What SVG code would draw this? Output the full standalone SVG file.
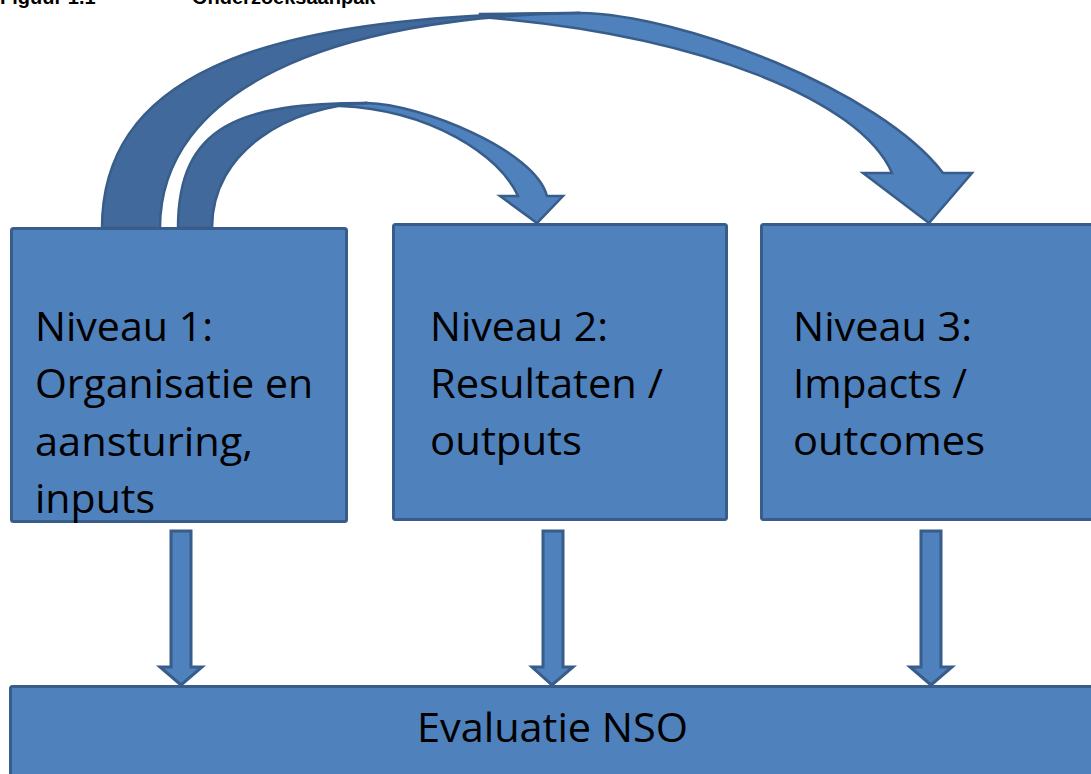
<svg xmlns="http://www.w3.org/2000/svg" width="1091" height="774" viewBox="0 0 1091 774">
<style>
.box{fill:#4F81BD;stroke:#385D8A;stroke-width:3}
.lbl{font-family:"Open Sans","Noto Sans","Liberation Sans",sans-serif;font-size:41px;fill:#000;font-variant-ligatures:none}
.dark{fill:#41699C;stroke:#385D8A;stroke-width:2.5;stroke-linejoin:round}
.light{fill:#4F81BD;stroke:#385D8A;stroke-width:2.5;stroke-linejoin:miter}
.down{fill:#4F81BD;stroke:#385D8A;stroke-width:3;stroke-linejoin:miter}
.title{font-family:"Liberation Sans",Arial,sans-serif;font-weight:bold;font-size:20px;fill:#000}
</style>
<rect width="1091" height="774" fill="#fff"/>
<g id="title">
<text class="title" x="0" y="4">Figuur 1.1</text>
<text class="title" x="192" y="4">Onderzoeksaanpak</text>
</g>
<g id="connectors">
<!-- big curved arrow: Niveau 1 -> Niveau 3 -->
<path class="light" d="M480,14 L580,13 C680,14 880,90 943,173 L972,173 L929,223 L863,173 L892,173 C860,100 700,35 480,17 Z"/>
<path class="dark" d="M102,228 C102,85 240,13 580,13 C330,17 160,90 160,228 Z"/>
<!-- small curved arrow: Niveau 1 -> Niveau 2 -->
<path class="light" d="M340,104 L367,103 C420,104 535,150 547,196 L563,196 L537,223 L500,196 L518,196 C500,155 430,110 340,106 Z"/>
<path class="dark" d="M178,228 C178,125 240,103 367,103 C290,106 212,150 212,228 Z"/>
<!-- down arrows -->
<path class="down" d="M171,531 L191,531 L191,667 L202,667 L181,685 L160,667 L171,667 Z"/>
<path class="down" d="M543,531 L563,531 L563,667 L573,667 L552,685 L532,667 L543,667 Z"/>
<path class="down" d="M921,531 L941,531 L941,667 L952,667 L931,685 L910,667 L921,667 Z"/>
</g>
<g id="niveau1">
<rect class="box" x="11.5" y="228.5" width="335" height="293" rx="2"/>
<text class="lbl" x="35" y="341" textLength="178" lengthAdjust="spacingAndGlyphs">Niveau 1:</text>
<text class="lbl" x="35" y="398" textLength="278" lengthAdjust="spacingAndGlyphs">Organisatie en</text>
<text class="lbl" x="35" y="456" textLength="218" lengthAdjust="spacingAndGlyphs">aansturing,</text>
<text class="lbl" x="35" y="513" textLength="120" lengthAdjust="spacingAndGlyphs">inputs</text>
</g>
<g id="niveau2">
<rect class="box" x="393.5" y="224.5" width="333" height="295" rx="2"/>
<text class="lbl" x="430" y="341" textLength="178" lengthAdjust="spacingAndGlyphs">Niveau 2:</text>
<text class="lbl" x="430" y="398" textLength="233" lengthAdjust="spacingAndGlyphs">Resultaten /</text>
<text class="lbl" x="430" y="455" textLength="152" lengthAdjust="spacingAndGlyphs">outputs</text>
</g>
<g id="niveau3">
<rect class="box" x="761.5" y="224.5" width="340" height="295" rx="2"/>
<text class="lbl" x="793" y="341" textLength="179" lengthAdjust="spacingAndGlyphs">Niveau 3:</text>
<text class="lbl" x="793" y="398" textLength="174" lengthAdjust="spacingAndGlyphs">Impacts /</text>
<text class="lbl" x="793" y="455" textLength="192" lengthAdjust="spacingAndGlyphs">outcomes</text>
</g>
<g id="evaluatie">
<rect class="box" x="10.5" y="686.5" width="1095" height="100" rx="2"/>
<text class="lbl" x="417" y="742" textLength="271" lengthAdjust="spacingAndGlyphs">Evaluatie NSO</text>
</g>
</svg>
